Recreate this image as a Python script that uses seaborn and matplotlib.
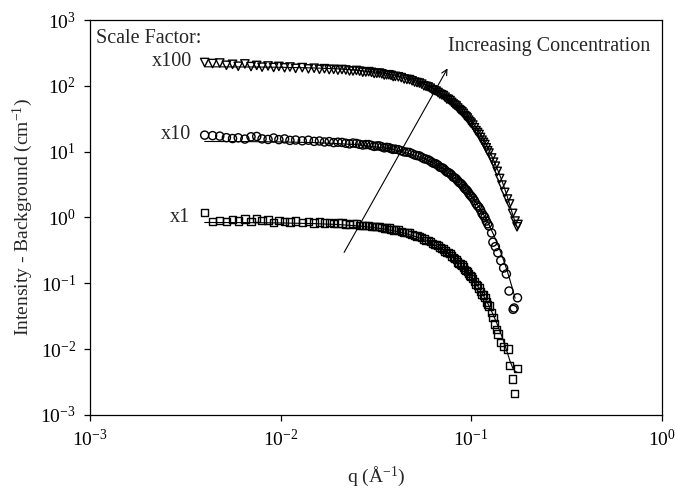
import matplotlib
matplotlib.use("Agg")
import matplotlib.pyplot as plt
import matplotlib.ticker as mticker
import seaborn as sns

# ── data (q in 1/Å, intensity in 1/cm) ────────────────────────────
Q_BASE = [
    0.0040, 0.0044, 0.0048, 0.0052, 0.0056, 0.0060, 0.0065, 0.0070, 0.0075, 0.0080,
    0.0086, 0.0092, 0.0098, 0.0105, 0.0112, 0.0120, 0.0130, 0.0140, 0.0150, 0.0160,
    0.0170, 0.0180, 0.0190, 0.0200, 0.0220, 0.0240, 0.0260, 0.0280, 0.0300, 0.0320,
    0.0340, 0.0360, 0.0380, 0.0400, 0.0430, 0.0460, 0.0490, 0.0520, 0.0550, 0.0580,
    0.0610, 0.0640, 0.0670, 0.0700, 0.0730, 0.0760, 0.0790, 0.0820, 0.0850, 0.0880,
    0.0910, 0.0940, 0.0970, 0.1000, 0.1040, 0.1080, 0.1120, 0.1160, 0.1200, 0.1240,
]
# second, overlapping detector setting (fills the dense band)
Q_MID = [
    0.0210, 0.0230, 0.0250, 0.0270, 0.0290, 0.0310, 0.0330, 0.0350, 0.0370, 0.0390,
    0.0415, 0.0445, 0.0475, 0.0505, 0.0535, 0.0565, 0.0595, 0.0625, 0.0655, 0.0685,
    0.0715, 0.0745, 0.0775, 0.0805, 0.0835, 0.0865, 0.0895, 0.0925, 0.0955, 0.0985,
    0.1020, 0.1060, 0.1100, 0.1140, 0.1180, 0.1220,
]

# x1 (squares)
i_x1_base = [
    1.18, 0.86, 0.90, 0.87, 0.93, 0.88, 0.95, 0.86, 0.97, 0.89,
    0.91, 0.84, 0.90, 0.87, 0.85, 0.88, 0.83, 0.86, 0.82, 0.85,
    0.82, 0.84, 0.80, 0.82, 0.79, 0.80, 0.76, 0.76, 0.73, 0.72,
    0.70, 0.69, 0.66, 0.65, 0.61, 0.59, 0.55, 0.52, 0.49, 0.45,
    0.43, 0.39, 0.37, 0.34, 0.31, 0.29, 0.26, 0.24, 0.21, 0.195,
    0.177, 0.155, 0.142, 0.127, 0.105, 0.092, 0.075, 0.066, 0.052, 0.045,
]
i_x1_mid = [
    0.82, 0.78, 0.79, 0.75, 0.76, 0.72, 0.73, 0.68, 0.69, 0.64,
    0.64, 0.59, 0.58, 0.53, 0.51, 0.47, 0.45, 0.40, 0.39, 0.35,
    0.33, 0.29, 0.28, 0.245, 0.23, 0.20, 0.188, 0.163, 0.152, 0.131,
    0.118, 0.096, 0.085, 0.068, 0.060, 0.047,
]
q_x1_tail = [0.128, 0.130, 0.133, 0.136, 0.138, 0.143, 0.148, 0.156, 0.159, 0.165, 0.169, 0.175]
i_x1_tail = [0.036, 0.030, 0.024, 0.020, 0.017, 0.0125, 0.011, 0.0100, 0.0056, 0.0035, 0.0021, 0.0051]

# x10 (circles)
i_x10_base = [
    17.8, 17.5, 17.2, 16.3, 15.8, 16.2, 15.5, 16.8, 17.0, 15.6,
    15.3, 16.1, 15.2, 15.6, 14.8, 15.0, 14.6, 14.9, 14.3, 14.5,
    14.0, 14.2, 13.7, 13.9, 13.4, 13.5, 12.9, 12.8, 12.4, 12.2,
    11.8, 11.6, 11.1, 10.9, 10.3, 9.8, 9.3, 8.7, 8.2, 7.7,
    7.2, 6.6, 6.2, 5.7, 5.2, 4.8, 4.4, 4.0, 3.6, 3.3,
    2.95, 2.65, 2.35, 2.1, 1.8, 1.5, 1.3, 1.07, 0.88, 0.74,
]
i_x10_mid = [
    13.8, 13.1, 13.3, 12.6, 12.8, 12.0, 12.2, 11.4, 11.5, 10.8,
    10.7, 9.9, 9.7, 8.9, 8.6, 7.8, 7.5, 6.8, 6.5, 5.8,
    5.55, 4.9, 4.65, 4.1, 3.85, 3.4, 3.15, 2.75, 2.53, 2.2,
    1.97, 1.62, 1.42, 1.15, 1.0, 0.80,
]
q_x10_tail = [0.128, 0.130, 0.134, 0.138, 0.143, 0.148, 0.153, 0.158, 0.166, 0.168, 0.175]
i_x10_tail = [0.58, 0.42, 0.36, 0.29, 0.22, 0.17, 0.138, 0.076, 0.040, 0.042, 0.060]

# x100 (down triangles)
i_x100_base = [
    226, 218, 222, 205, 212, 198, 215, 196, 204, 192,
    200, 190, 197, 188, 193, 184, 189, 181, 185, 178,
    182, 176, 178, 173, 174, 168, 167, 162, 160, 155,
    152, 147, 144, 139, 133, 125, 119, 112, 106, 98,
    92, 85, 79, 73, 67, 62, 56, 51, 46, 42,
    38, 34, 30, 27, 23, 19.5, 16.4, 13.8, 11.4, 9.5,
]
i_x100_mid = [
    177, 168, 171, 161, 164, 154, 156, 146, 147, 138,
    137, 127, 124, 114, 110, 100, 96, 87, 83, 75,
    71, 63, 59.5, 53, 49.3, 43.5, 40.2, 35.3, 32.4, 28.3,
    25.3, 20.8, 18.2, 14.9, 12.8, 10.3,
]
q_x100_tail = [0.128, 0.131, 0.134, 0.137, 0.141, 0.145, 0.150, 0.155, 0.159, 0.165, 0.170, 0.174, 0.176]
i_x100_tail = [8.0, 6.9, 6.0, 5.0, 3.9, 3.1, 2.4, 1.9, 1.6, 1.15, 0.88, 0.72, 0.78]

# model fit lines
Q_FIT = [
    0.004, 0.006, 0.008, 0.010, 0.015, 0.020, 0.025, 0.030, 0.035, 0.040,
    0.045, 0.050, 0.055, 0.060, 0.065, 0.070, 0.075, 0.080, 0.085, 0.090,
    0.095, 0.100, 0.105, 0.110, 0.115, 0.120, 0.125, 0.130, 0.135, 0.140,
    0.145, 0.150, 0.155, 0.160, 0.165, 0.170, 0.175,
]
fit_x1 = [
    0.837, 0.834, 0.830, 0.824, 0.805, 0.779, 0.746, 0.708, 0.666, 0.620,
    0.572, 0.522, 0.473, 0.424, 0.376, 0.331, 0.288, 0.249, 0.213, 0.180,
    0.151, 0.126, 0.103, 0.0843, 0.0680, 0.0544, 0.0432, 0.0339, 0.0263, 0.0202,
    0.0155, 0.0117, 0.0087, 0.0065, 0.0052, 0.0046, 0.0044,
]
fit_x10 = [
    14.26, 14.20, 14.13, 14.03, 13.70, 13.25, 12.70, 12.05, 11.33, 10.55,
    9.73, 8.89, 8.05, 7.22, 6.41, 5.64, 4.91, 4.24, 3.62, 3.07,
    2.57, 2.14, 1.76, 1.44, 1.16, 0.927, 0.735, 0.576, 0.448, 0.345,
    0.263, 0.199, 0.149, 0.110, 0.081, 0.059,
]
fit_x100 = [
    194.4, 193.7, 192.6, 191.3, 186.8, 180.7, 173.2, 164.3, 154.5, 143.9,
    132.7, 121.3, 109.7, 98.4, 87.4, 76.9, 67.0, 57.8, 49.4, 41.8,
    35.1, 29.2, 24.0, 19.6, 15.8, 12.6, 10.0, 7.86, 6.10, 4.70,
    3.59, 2.71, 2.03, 1.51, 1.11, 0.85,
]

DECADES_X = [1e-3, 1e-2, 1e-1, 1e0]
LABELS_X = ["10$^{-3}$", "10$^{-2}$", "10$^{-1}$", "10$^{0}$"]
DECADES_Y = [1e-3, 1e-2, 1e-1, 1e0, 1e1, 1e2, 1e3]
LABELS_Y = ["10$^{-3}$", "10$^{-2}$", "10$^{-1}$", "10$^{0}$", "10$^{1}$", "10$^{2}$", "10$^{3}$"]

# ── style ─────────────────────────────────────────────────────────
sns.set_style("ticks")
plt.rcParams["font.family"] = ["Liberation Serif", "DejaVu Serif"]
plt.rcParams["mathtext.default"] = "regular"

fig = plt.figure(figsize=(6.76, 4.88), dpi=100)
ax = fig.add_axes([0.133, 0.150, 0.846, 0.809])

series = [
    (Q_BASE + Q_MID + q_x1_tail, i_x1_base + i_x1_mid + i_x1_tail, "s", 28),
    (Q_BASE + Q_MID + q_x10_tail, i_x10_base + i_x10_mid + i_x10_tail, "o", 34),
    (Q_BASE + Q_MID + q_x100_tail, i_x100_base + i_x100_mid + i_x100_tail, "v", 36),
]
for qs, vals, mk, sz in series:
    sns.scatterplot(x=qs, y=vals, marker=mk, s=sz, facecolor="none",
                    edgecolor="black", linewidth=1.0, ax=ax, zorder=2)

for fit in (fit_x1, fit_x10, fit_x100):
    sns.lineplot(x=Q_FIT[:len(fit)], y=fit, color="black", linewidth=0.8,
                 estimator=None, sort=False, ax=ax, zorder=3)

ax.set_xscale("log")
ax.set_yscale("log")
ax.set_xlim(1e-3, 1e0)
ax.set_ylim(1e-3, 1e3)
ax.xaxis.set_major_locator(mticker.FixedLocator(DECADES_X))
ax.yaxis.set_major_locator(mticker.FixedLocator(DECADES_Y))
ax.xaxis.set_minor_locator(mticker.NullLocator())
ax.yaxis.set_minor_locator(mticker.NullLocator())
ax.set_xticklabels(LABELS_X, fontsize=14)
ax.set_yticklabels(LABELS_Y, fontsize=14)
ax.tick_params(direction="out", length=4, width=0.9, colors="black", pad=6)
for sp in ax.spines.values():
    sp.set_color("black")
    sp.set_linewidth(0.9)

ax.set_xlabel("q (Å$^{-1}$)", fontsize=14, labelpad=10)
ax.set_ylabel("Intensity - Background (cm$^{-1}$)", fontsize=14, labelpad=4)

# annotations
ax.annotate("", xy=(0.0764, 200), xytext=(0.0212, 0.27),
            arrowprops=dict(arrowstyle="->", color="black", lw=0.8))
ax.text(0.626, 0.934, "Increasing Concentration", transform=ax.transAxes,
        fontsize=14.5, ha="left", va="center")
ax.text(0.010, 0.954, "Scale Factor:", transform=ax.transAxes,
        fontsize=14.5, ha="left", va="center")
ax.text(0.178, 0.896, "x100", transform=ax.transAxes, fontsize=14.5, ha="right", va="center")
ax.text(0.177, 0.711, "x10", transform=ax.transAxes, fontsize=14.5, ha="right", va="center")
ax.text(0.175, 0.499, "x1", transform=ax.transAxes, fontsize=14.5, ha="right", va="center")

fig.savefig("out.png", dpi=100)
